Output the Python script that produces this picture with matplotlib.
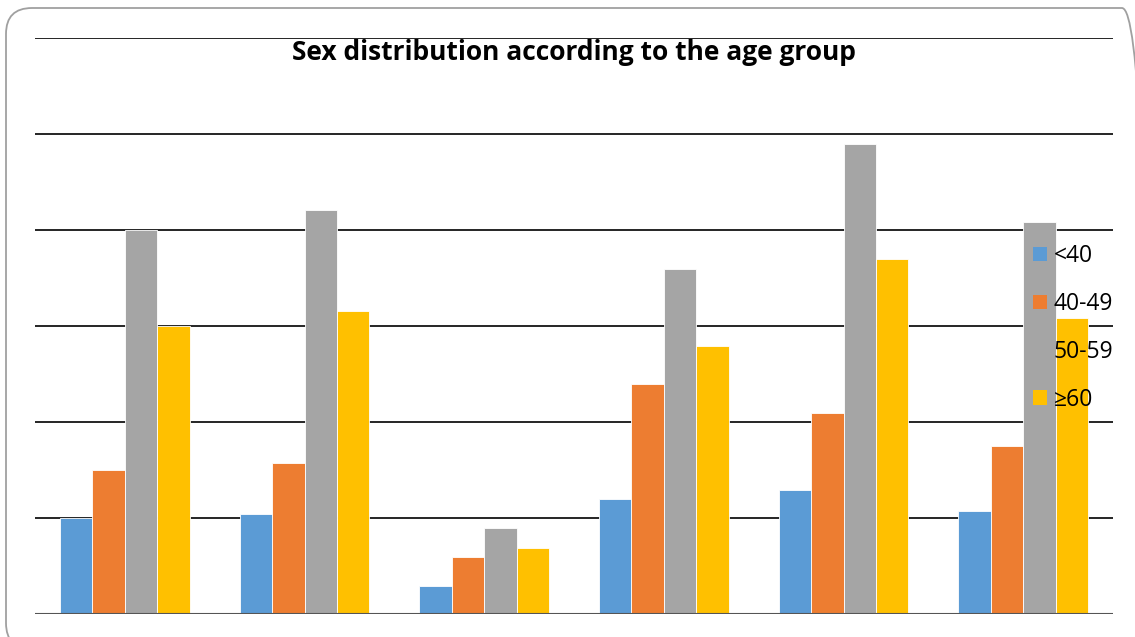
import matplotlib.pyplot as plt
import numpy as np
from matplotlib.patches import FancyBboxPatch
from matplotlib.transforms import IdentityTransform

plt.rcParams["font.family"] = ["Open Sans", "DejaVu Sans"]

# values (one unit = 1/10 of a grid step)
groups = ["1", "2", "3", "4", "5", "6"]
series = ["<40", "40-49", "50-59", "≥60"]
under_40 = [10, 10.4, 2.9, 12, 12.9, 10.7]
age_40_49 = [15, 15.7, 5.9, 24, 20.9, 17.5]
age_50_59 = [40, 42.1, 9, 35.9, 49, 40.8]
over_60 = [30, 31.6, 6.9, 27.9, 37, 30.8]
colors = ["#5B9BD5", "#ED7D31", "#A5A5A5", "#FFC000"]

W, H = 1135, 637
fig = plt.figure(figsize=(W / 100, H / 100), dpi=100)
# rounded frame in pixel coords, running off the right and bottom edges
border = FancyBboxPatch((6, -12), 1142, H - 8 + 12,
                        boxstyle="round,pad=0,rounding_size=26",
                        transform=IdentityTransform(), fill=False,
                        edgecolor="#A0A0A0", linewidth=1.3)
fig.patches.append(border)

ax = fig.add_axes([35 / W, 1 - 614 / H, (1113 - 35) / W, (614 - 38) / H])

x = np.arange(len(groups))
width = 0.18
for i, (vals, lab) in enumerate(zip([under_40, age_40_49, age_50_59, over_60], series)):
    ax.bar(x + (i - 1.5) * width, vals, width, color=colors[i], label=lab,
           edgecolor="white", linewidth=0.6, zorder=3)

ax.set_xlim(-0.5, len(groups) - 0.5)
ax.set_ylim(0, 60)
ax.set_yticks(np.arange(0, 61, 10))
ax.yaxis.grid(True, color="black", linewidth=1.2, zorder=0)
ax.set_axisbelow(True)
ax.tick_params(left=False, bottom=False, labelleft=False, labelbottom=False)
for s in ax.spines.values():
    s.set_visible(False)
ax.axhline(0, color="#555555", linewidth=1.5, zorder=4)

ax.text(0.5, 1 - 14 / 576, "Sex distribution according to the age group",
        transform=ax.transAxes, ha="center", va="center",
        fontsize=19, fontweight="bold", zorder=5)

leg = ax.legend(frameon=False, loc="upper left",
                bbox_to_anchor=((1024 - 35) / 1078, (614 - 235) / 576),
                fontsize=16.5, handlelength=0.6, handleheight=0.6,
                handletextpad=0.3, labelspacing=1.04, borderaxespad=0)
for h in leg.legend_handles:
    h.set_edgecolor("none")
leg.set_zorder(6)

fig.savefig("out.png", dpi=100)
